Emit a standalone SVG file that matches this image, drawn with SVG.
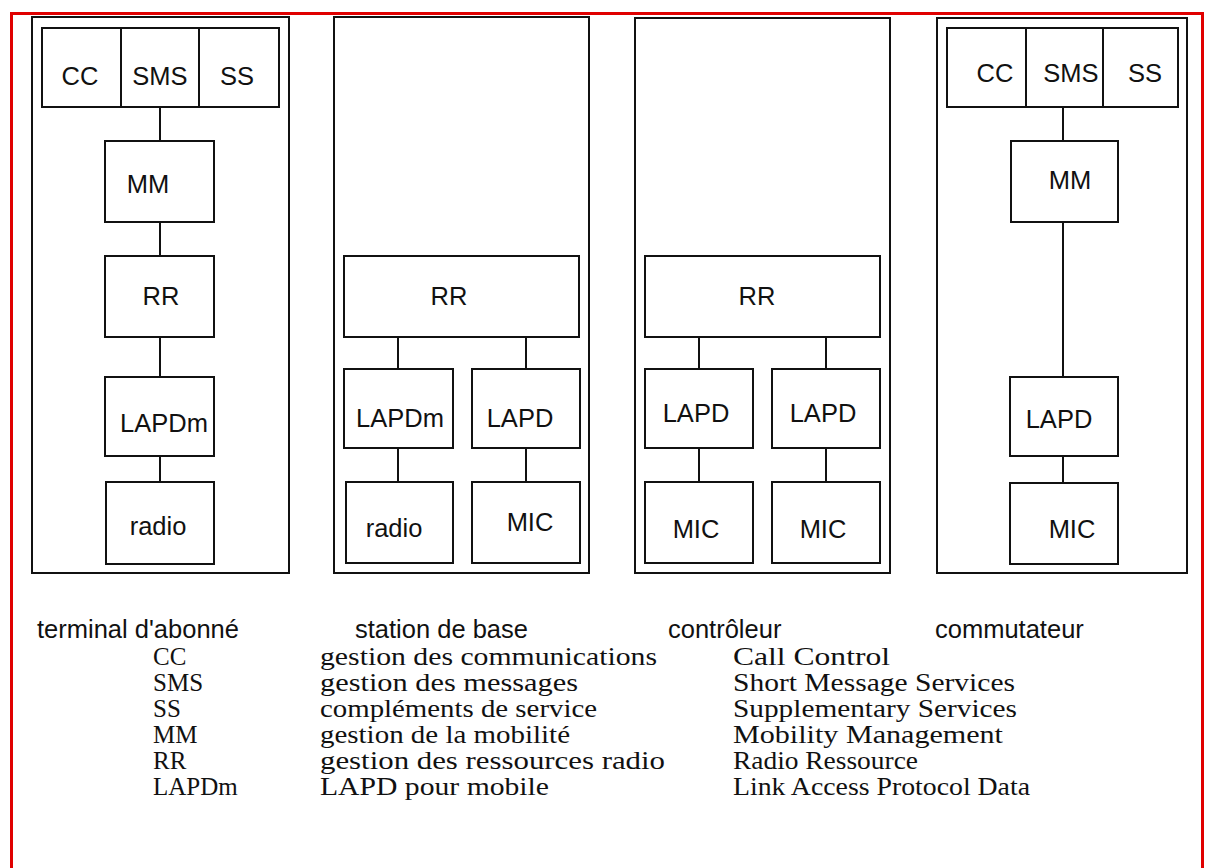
<svg xmlns="http://www.w3.org/2000/svg" width="1205" height="868" viewBox="0 0 1205 868">
<style>
.frame{fill:none;stroke:#e00000;stroke-width:3}
.outer{fill:#fff;stroke:#111;stroke-width:2}
.box{fill:#fff;stroke:#111;stroke-width:2}
.conn line{stroke:#111;stroke-width:2}
.t{font-family:"Liberation Sans",Arial,sans-serif;font-size:25.5px;fill:#111;text-anchor:middle}
.lab{font-family:"Liberation Sans",Arial,sans-serif;font-size:25.5px;fill:#111}
.leg{font-family:"Liberation Serif","Times New Roman",serif;font-size:25px;fill:#111}
</style>
<rect x="0" y="0" width="1205" height="868" fill="#fff"/>
<rect class="frame" x="11.5" y="13.5" width="1191" height="870"/>

<g id="col-terminal">
<rect class="outer" x="32" y="17" width="257" height="556"/>
<g id="t-top">
<rect class="box" x="42" y="28" width="237" height="79"/>
<line x1="121" y1="28" x2="121" y2="107" stroke="#111" stroke-width="2"/>
<line x1="199" y1="28" x2="199" y2="107" stroke="#111" stroke-width="2"/>
<text class="t" x="80" y="85">CC</text>
<text class="t" x="160" y="85">SMS</text>
<text class="t" x="237" y="85">SS</text>
</g>
<g id="t-mm"><rect class="box" x="105" y="141" width="109" height="81"/><text class="t" x="148" y="193">MM</text></g>
<g id="t-rr"><rect class="box" x="105" y="256" width="109" height="81"/><text class="t" x="161" y="305">RR</text></g>
<g id="t-lapdm"><rect class="box" x="105" y="377" width="109" height="79"/><text class="t" x="164" y="432">LAPDm</text></g>
<g id="t-radio"><rect class="box" x="106" y="482" width="108" height="82"/><text class="t" x="158" y="535">radio</text></g>
</g>

<g id="col-station">
<rect class="outer" x="334" y="17" width="255" height="556"/>
<g id="s-rr"><rect class="box" x="344" y="256" width="235" height="81"/><text class="t" x="449" y="305">RR</text></g>
<g id="s-lapdm"><rect class="box" x="344" y="369" width="109" height="79"/><text class="t" x="400" y="427">LAPDm</text></g>
<g id="s-lapd"><rect class="box" x="472" y="369" width="108" height="79"/><text class="t" x="520" y="427">LAPD</text></g>
<g id="s-radio"><rect class="box" x="346" y="482" width="107" height="81"/><text class="t" x="394" y="537">radio</text></g>
<g id="s-mic"><rect class="box" x="472" y="482" width="108" height="81"/><text class="t" x="530" y="531">MIC</text></g>
</g>

<g id="col-controleur">
<rect class="outer" x="635" y="18" width="255" height="555"/>
<g id="c-rr"><rect class="box" x="645" y="256" width="235" height="81"/><text class="t" x="757" y="305">RR</text></g>
<g id="c-lapd1"><rect class="box" x="645" y="369" width="108" height="79"/><text class="t" x="696" y="422">LAPD</text></g>
<g id="c-lapd2"><rect class="box" x="772" y="369" width="108" height="79"/><text class="t" x="823" y="422">LAPD</text></g>
<g id="c-mic1"><rect class="box" x="645" y="482" width="108" height="81"/><text class="t" x="696" y="538">MIC</text></g>
<g id="c-mic2"><rect class="box" x="772" y="482" width="108" height="81"/><text class="t" x="823" y="538">MIC</text></g>
</g>

<g id="col-commutateur">
<rect class="outer" x="937" y="18" width="250" height="555"/>
<g id="m-top">
<rect class="box" x="947" y="28" width="231" height="79"/>
<line x1="1026" y1="28" x2="1026" y2="107" stroke="#111" stroke-width="2"/>
<line x1="1103" y1="28" x2="1103" y2="107" stroke="#111" stroke-width="2"/>
<text class="t" x="995" y="82">CC</text>
<text class="t" x="1071" y="82">SMS</text>
<text class="t" x="1145" y="82">SS</text>
</g>
<g id="m-mm"><rect class="box" x="1011" y="141" width="107" height="81"/><text class="t" x="1070" y="189">MM</text></g>
<g id="m-lapd"><rect class="box" x="1010" y="377" width="108" height="79"/><text class="t" x="1059" y="428">LAPD</text></g>
<g id="m-mic"><rect class="box" x="1010" y="483" width="108" height="81"/><text class="t" x="1072" y="538">MIC</text></g>
</g>

<g id="connectors" class="conn">
<line x1="160" y1="107" x2="160" y2="141"/>
<line x1="160" y1="222" x2="160" y2="256"/>
<line x1="160" y1="337" x2="160" y2="377"/>
<line x1="160" y1="456" x2="160" y2="482"/>
<line x1="398" y1="337" x2="398" y2="369"/>
<line x1="526" y1="337" x2="526" y2="369"/>
<line x1="398" y1="448" x2="398" y2="482"/>
<line x1="526" y1="448" x2="526" y2="482"/>
<line x1="699" y1="337" x2="699" y2="369"/>
<line x1="826" y1="337" x2="826" y2="369"/>
<line x1="699" y1="448" x2="699" y2="482"/>
<line x1="826" y1="448" x2="826" y2="482"/>
<line x1="1063" y1="107" x2="1063" y2="141"/>
<line x1="1063" y1="222" x2="1063" y2="377"/>
<line x1="1063" y1="456" x2="1063" y2="483"/>
</g>

<g id="labels">
<text class="lab" x="37" y="638">terminal d'abonné</text>
<text class="lab" x="355" y="638">station de base</text>
<text class="lab" x="668" y="638">contrôleur</text>
<text class="lab" x="935" y="638">commutateur</text>
</g>

<g id="legend">
<text class="leg" x="153" y="665">CC</text>
<text class="leg" x="153" y="691">SMS</text>
<text class="leg" x="153" y="717">SS</text>
<text class="leg" x="153" y="743">MM</text>
<text class="leg" x="153" y="769">RR</text>
<text class="leg" x="153" y="795">LAPDm</text>
<text class="leg" x="320" y="665" textLength="337" lengthAdjust="spacingAndGlyphs">gestion des communications</text>
<text class="leg" x="320" y="691" textLength="258" lengthAdjust="spacingAndGlyphs">gestion des messages</text>
<text class="leg" x="320" y="717" textLength="277" lengthAdjust="spacingAndGlyphs">compléments de service</text>
<text class="leg" x="320" y="743" textLength="250" lengthAdjust="spacingAndGlyphs">gestion de la mobilité</text>
<text class="leg" x="320" y="769" textLength="345" lengthAdjust="spacingAndGlyphs">gestion des ressources radio</text>
<text class="leg" x="320" y="795" textLength="229" lengthAdjust="spacingAndGlyphs">LAPD pour mobile</text>
<text class="leg" x="733" y="665" textLength="157" lengthAdjust="spacingAndGlyphs">Call Control</text>
<text class="leg" x="733" y="691" textLength="282" lengthAdjust="spacingAndGlyphs">Short Message Services</text>
<text class="leg" x="733" y="717" textLength="284" lengthAdjust="spacingAndGlyphs">Supplementary Services</text>
<text class="leg" x="733" y="743" textLength="270" lengthAdjust="spacingAndGlyphs">Mobility Management</text>
<text class="leg" x="733" y="769" textLength="185" lengthAdjust="spacingAndGlyphs">Radio Ressource</text>
<text class="leg" x="733" y="795" textLength="297" lengthAdjust="spacingAndGlyphs">Link Access Protocol Data</text>
</g>
</svg>
